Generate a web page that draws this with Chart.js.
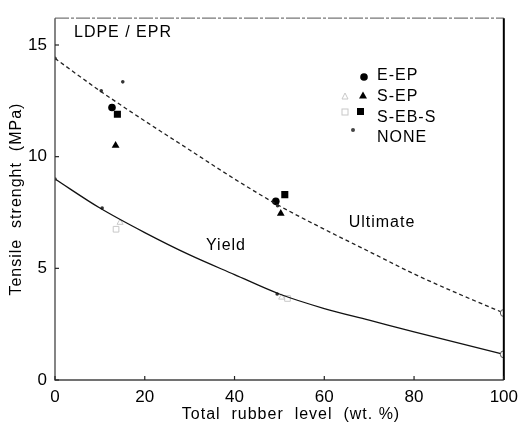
<!DOCTYPE html>
<html>
<head>
<meta charset="utf-8">
<script src="https://cdn.jsdelivr.net/npm/chart.js@4.4.0/dist/chart.umd.min.js"></script>
<style>
  html, body { margin: 0; padding: 0; background: #fff; }
  #wrap { width: 525px; height: 425px; }
</style>
</head>
<body>
<div id="wrap"><canvas id="chart" width="525" height="425"></canvas></div>
<script>
// Değerler
const curveX = [0, 10, 20, 30, 40, 50, 60, 70, 80, 90, 100];
const ultimateY = [14.4, 12.95, 11.6, 10.3, 9.0, 7.8, 6.75, 5.75, 4.75, 3.85, 3.0];
const yieldY = [9.0, 7.7, 6.6, 5.6, 4.72, 3.85, 3.2, 2.68, 2.15, 1.65, 1.15];

const eepX = [12.7, 49.2];
const eepY = [12.2, 8.0];
const sepX = [13.5, 50.3];
const sepY = [10.5, 7.45];
const sebsX = [13.9, 51.2];
const sebsY = [11.9, 8.3];
const sepYieldX = [14.5, 50.5];
const sepYieldY = [7.05, 3.7];
const sebsYieldX = [13.6, 51.8];
const sebsYieldY = [6.75, 3.65];
const noneX = [0, 10.3, 15.1, 49.6, 0, 10.5, 49.5];
const noneY = [14.4, 12.95, 13.35, 7.8, 9.0, 7.7, 3.85];

const xTicks = [0, 20, 40, 60, 80, 100];
const yTicks = [0, 5, 10, 15];
const legendLabels = ['E-EP', 'S-EP', 'S-EB-S', 'NONE'];

const FONT = '"Liberation Sans", Arial, sans-serif';

function pts(xs, ys) {
    return xs.map((x, i) => ({ x: x, y: ys[i] }));
}

// Yazılar, çerçeve ve içe dönük çentikler
const decorPlugin = {
    id: 'decor',
    afterDraw(chart) {
        const ctx = chart.ctx;
        const a = chart.chartArea;
        const xs = chart.scales.x;
        const ys = chart.scales.y;
        ctx.save();

        // çerçeve
        ctx.lineWidth = 1.3;
        ctx.strokeStyle = '#777';
        ctx.setLineDash([14, 2, 3, 2]);
        ctx.beginPath();
        ctx.moveTo(a.left, a.top);
        ctx.lineTo(a.right, a.top);
        ctx.stroke();
        ctx.strokeStyle = '#444';
        ctx.setLineDash([]);
        ctx.beginPath();
        ctx.moveTo(a.left, a.top);
        ctx.lineTo(a.left, a.bottom);
        ctx.lineTo(a.right, a.bottom);
        ctx.stroke();
        ctx.strokeStyle = '#000';
        ctx.lineWidth = 2;
        ctx.beginPath();
        ctx.moveTo(a.right, a.top);
        ctx.lineTo(a.right, a.bottom);
        ctx.stroke();

        // çentikler
        ctx.lineWidth = 1.2;
        ctx.strokeStyle = '#222';
        yTicks.forEach(v => {
            const py = ys.getPixelForValue(v);
            ctx.beginPath();
            ctx.moveTo(a.left, py);
            ctx.lineTo(a.left + 4, py);
            ctx.stroke();
        });
        xTicks.forEach(v => {
            const px = xs.getPixelForValue(v);
            ctx.beginPath();
            ctx.moveTo(px, a.bottom);
            ctx.lineTo(px, a.bottom - 4);
            ctx.stroke();
        });

        ctx.fillStyle = '#000';
        ctx.textBaseline = 'middle';
        ctx.textAlign = 'center';
        ctx.letterSpacing = '1px';
        ctx.font = '16px ' + FONT;
        ctx.fillText('LDPE / EPR', 123, 33);
        ctx.fillText('Ultimate', 382, 223);
        ctx.fillText('Yield', 226, 246);
        ctx.fillText('Total  rubber  level  (wt. %)', 291, 415);

        ctx.save();
        ctx.translate(17, (a.top + a.bottom) / 2);
        ctx.rotate(-Math.PI / 2);
        ctx.fillText('Tensile  strenght  (MPa)', 0, 0);
        ctx.restore();

        // lejant
        ctx.textAlign = 'left';
        const rowY = [76, 97, 118, 138];
        legendLabels.forEach((label, i) => {
            ctx.fillText(label, 377, rowY[i]);
        });
        ctx.beginPath();
        ctx.arc(364, 77, 3.8, 0, Math.PI * 2);
        ctx.fill();
        ctx.beginPath();
        ctx.moveTo(363, 91.5);
        ctx.lineTo(367, 98.5);
        ctx.lineTo(359, 98.5);
        ctx.closePath();
        ctx.fill();
        ctx.fillRect(357, 108, 7, 7);
        ctx.strokeStyle = '#c8c8c8';
        ctx.lineWidth = 1;
        ctx.beginPath();
        ctx.moveTo(345, 93);
        ctx.lineTo(348, 99);
        ctx.lineTo(342, 99);
        ctx.closePath();
        ctx.stroke();
        ctx.strokeRect(342, 109, 6, 6);
        ctx.fillStyle = '#444';
        ctx.beginPath();
        ctx.arc(353, 130, 2, 0, Math.PI * 2);
        ctx.fill();

        ctx.restore();
    }
};

const lastRing = (ctx) => ctx.dataIndex === curveX.length - 1 ? 3.5 : 0;

new Chart(document.getElementById('chart'), {
    type: 'scatter',
    data: {
        datasets: [
            {
                label: 'Ultimate',
                data: pts(curveX, ultimateY),
                showLine: true,
                borderColor: '#222',
                borderWidth: 1.3,
                borderDash: [4, 3],
                cubicInterpolationMode: 'monotone',
                pointRadius: lastRing,
                pointBackgroundColor: '#fff',
                pointBorderColor: '#555',
                pointBorderWidth: 1
            },
            {
                label: 'Yield',
                data: pts(curveX, yieldY),
                showLine: true,
                borderColor: '#111',
                borderWidth: 1.3,
                cubicInterpolationMode: 'monotone',
                pointRadius: lastRing,
                pointBackgroundColor: '#fff',
                pointBorderColor: '#555',
                pointBorderWidth: 1
            },
            {
                label: 'NONE',
                data: pts(noneX, noneY).concat([{ x: 100, y: ultimateY[10] }, { x: 100, y: yieldY[10] }]),
                pointStyle: 'circle',
                pointRadius: 1.8,
                backgroundColor: '#333',
                borderColor: '#333',
                borderWidth: 0
            },
            {
                label: 'E-EP',
                data: pts(eepX, eepY),
                pointStyle: 'circle',
                pointRadius: 3.8,
                backgroundColor: '#000',
                borderColor: '#000',
                borderWidth: 0
            },
            {
                label: 'S-EP',
                data: pts(sepX, sepY),
                pointStyle: 'triangle',
                pointRadius: 4.5,
                backgroundColor: '#000',
                borderColor: '#000',
                borderWidth: 0
            },
            {
                label: 'S-EB-S',
                data: pts(sebsX, sebsY),
                pointStyle: 'rect',
                pointRadius: 5,
                backgroundColor: '#000',
                borderColor: '#000',
                borderWidth: 0
            },
            {
                label: 'S-EP yield',
                data: pts(sepYieldX, sepYieldY),
                pointStyle: 'triangle',
                pointRadius: 3.5,
                backgroundColor: 'rgba(0,0,0,0)',
                borderColor: '#c8c8c8',
                borderWidth: 1
            },
            {
                label: 'S-EB-S yield',
                data: pts(sebsYieldX, sebsYieldY),
                pointStyle: 'rect',
                pointRadius: 4,
                backgroundColor: 'rgba(0,0,0,0)',
                borderColor: '#c8c8c8',
                borderWidth: 1
            }
        ]
    },
    options: {
        responsive: false,
        animation: false,
        layout: { padding: { left: 0, right: 13, top: 12, bottom: 0 } },
        plugins: {
            legend: { display: false },
            tooltip: { enabled: false }
        },
        scales: {
            x: {
                type: 'linear',
                min: 0,
                max: 100,
                afterFit: s => { s.height = 45; },
                grid: { display: false, drawTicks: false },
                border: { display: false },
                ticks: {
                    stepSize: 20,
                    includeBounds: false,
                    padding: 7,
                    color: '#000',
                    font: { family: FONT, size: 17 }
                }
            },
            y: {
                type: 'linear',
                min: 0,
                max: 16.2,
                afterFit: s => { s.width = 55; },
                grid: { display: false, drawTicks: false },
                border: { display: false },
                ticks: {
                    stepSize: 5,
                    includeBounds: false,
                    padding: 8,
                    color: '#000',
                    font: { family: FONT, size: 17 }
                }
            }
        }
    },
    plugins: [decorPlugin]
});
</script>
</body>
</html>
